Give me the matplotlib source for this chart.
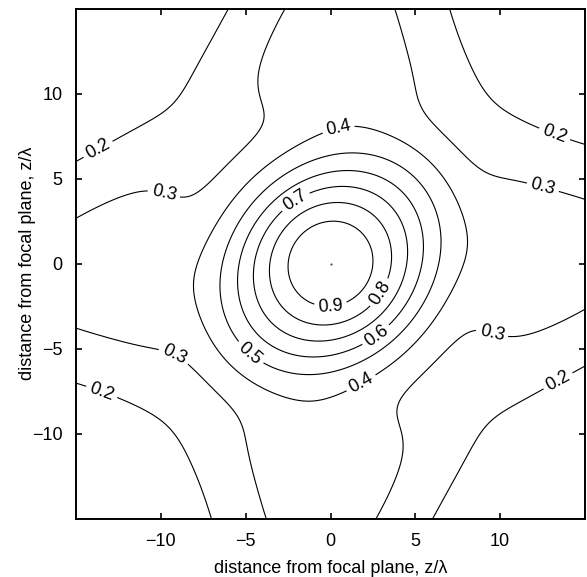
import numpy as np
import matplotlib
matplotlib.use('Agg')
import matplotlib.pyplot as plt

plt.rcParams['font.family'] = ['Liberation Sans', 'DejaVu Sans']

# contour levels and ticks
levels = [0.2, 0.3, 0.4, 0.5, 0.6, 0.7, 0.8, 0.9]
ticks = [-10, -5, 0, 5, 10]
axis_limit = 15

# central lobe: round at the top, longer along z1 = z2 further out
lobe_height = 0.6
lobe_width = 6.2
lobe_power = 2.1
lobe_cutoff = 11.8
lobe_stretch_diag = 1.107
lobe_stretch_anti = 0.817
tilt_onset = 4.5

# slow radial tail under everything
tail_height = 0.4
tail_width = 12.4

# the two arms along the axes
arm_height = 0.2
arm_start = 9.4
arm_rise = 1.0
arm_width = 5.75
arm_skew = 1.8e-4
arm_end = 24.0

# where the inline labels sit (level, z1, z2)
label_spots = [(0.2, -13.6, 6.55), (0.3, -9.8, 4.2), (0.4, 0.5, 7.8), (0.7, -2.15, 3.8),
	(0.9, 0.0, -2.4), (0.8, 2.75, -1.6), (0.6, 2.65, -4.15), (0.5, -4.9, -5.45),
	(0.4, 1.8, -7.0), (0.3, 12.45, 4.25), (0.2, 13.05, 7.2), (0.3, -9.0, -4.95),
	(0.2, -13.4, -7.3), (0.3, 9.5, -4.15), (0.2, 13.25, -6.6)]


def arm(along, across):
	''' one arm: grows in away from the centre, gaussian across, fades at the far end '''
	grow = 1 / (1 + np.exp(-(np.abs(along) - arm_start) / arm_rise))
	fade = np.exp(-(along / arm_end) ** 8)
	centre = arm_skew * along ** 3
	return arm_height * grow * fade * np.exp(-((across - centre) / arm_width) ** 2)


def similarity(z1, z2):
	r = np.sqrt(z1 ** 2 + z2 ** 2)
	tilt = 1 - np.exp(-(r / tilt_onset) ** 2)

	diag = (z1 + z2) / np.sqrt(2)
	anti = (z2 - z1) / np.sqrt(2)
	sd = 1 + (lobe_stretch_diag - 1) * tilt
	sa = 1 + (lobe_stretch_anti - 1) * tilt
	r_lobe = np.sqrt((diag / sd) ** 2 + (anti / sa) ** 2)
	lobe = lobe_height * np.exp(-(r_lobe / lobe_width) ** lobe_power - (r_lobe / lobe_cutoff) ** 6)

	tail = tail_height / (1 + (r / tail_width) ** 2)

	return lobe + tail + arm(z2, z1) + arm(z1, z2)


z = np.linspace(-axis_limit, axis_limit, 401)
Z1, Z2 = np.meshgrid(z, z)
S = similarity(Z1, Z2)

fig = plt.figure(figsize=(5.87, 5.77), dpi=100)
ax = fig.add_axes([76 / 587, 1 - 519 / 577, 509 / 587, 510.5 / 577])

cs = ax.contour(Z1, Z2, S, levels=levels, colors='black', linewidths=0.8)
ax.clabel(cs, levels, fmt='%.1f', fontsize=13, inline=True, inline_spacing=4,
	manual=[(a, b) for lev, a, b in label_spots])

# little dot at the centre
ax.plot([0], [0], marker='.', color='black', markersize=0.8)

ax.set_xlim(-axis_limit, axis_limit)
ax.set_ylim(-axis_limit, axis_limit)
ax.set_xticks(ticks)
ax.set_yticks(ticks)
ax.tick_params(direction='in', top=True, right=True, length=4, width=1.2, labelsize=13)
ax.tick_params(axis='x', pad=10)
ax.tick_params(axis='y', pad=9.5)
for side in ax.spines.values():
	side.set_linewidth(1.4)

ax.set_xlabel('distance from focal plane, z/λ', fontsize=13, labelpad=7.5)
ax.set_ylabel('distance from focal plane, z/λ', fontsize=13, labelpad=-3)

fig.savefig('out.png', dpi=100)
